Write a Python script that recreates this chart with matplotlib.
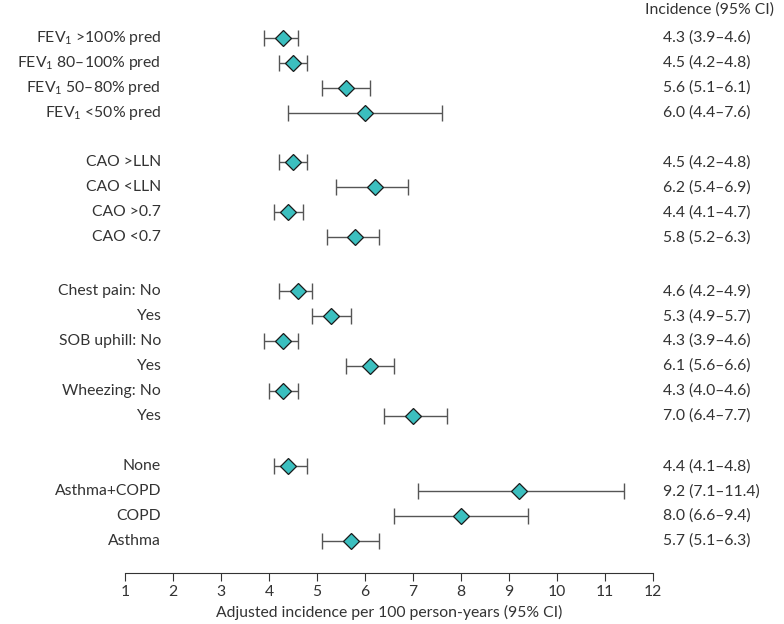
import matplotlib
matplotlib.use("Agg")
import matplotlib.pyplot as plt
import matplotlib.transforms as mtrans
import numpy as np

plt.rcParams['font.family'] = ['Lato', 'DejaVu Sans']
plt.rcParams['mathtext.fontset'] = 'custom'
plt.rcParams['mathtext.rm'] = 'Lato'
plt.rcParams['mathtext.default'] = 'regular'

# groups of rows, top to bottom
labels = [
    ['FEV$_1$ >100% pred', 'FEV$_1$ 80–100% pred', 'FEV$_1$ 50–80% pred', 'FEV$_1$ <50% pred'],
    ['CAO >LLN', 'CAO <LLN', 'CAO >0.7', 'CAO <0.7'],
    ['Chest pain: No', 'Yes', 'SOB uphill: No', 'Yes', 'Wheezing: No', 'Yes'],
    ['None', 'Asthma+COPD', 'COPD', 'Asthma'],
]
est = [
    [4.3, 4.5, 5.6, 6.0],
    [4.5, 6.2, 4.4, 5.8],
    [4.6, 5.3, 4.3, 6.1, 4.3, 7.0],
    [4.4, 9.2, 8.0, 5.7],
]
lo = [
    [3.9, 4.2, 5.1, 4.4],
    [4.2, 5.4, 4.1, 5.2],
    [4.2, 4.9, 3.9, 5.6, 4.0, 6.4],
    [4.1, 7.1, 6.6, 5.1],
]
hi = [
    [4.6, 4.8, 6.1, 7.6],
    [4.8, 6.9, 4.7, 6.3],
    [4.9, 5.7, 4.6, 6.6, 4.6, 7.7],
    [4.8, 11.4, 9.4, 6.3],
]
gaps = [0, 2.0, 2.17, 2.03]

# row positions
pos = []
y = 0
for g, grp in enumerate(labels):
    if g > 0:
        y += gaps[g]
    for i in range(len(grp)):
        pos.append(y)
        y += 1
    y -= 1
pos = np.array(pos)

lab = [s for grp in labels for s in grp]
e = np.array([v for grp in est for v in grp])
l = np.array([v for grp in lo for v in grp])
h = np.array([v for grp in hi for v in grp])

txtc = '#333333'
fs = 11.3

fig = plt.figure(figsize=(7.84, 6.24), dpi=100)
ax = fig.add_axes([125 / 784, 51 / 624, 528 / 784, 548 / 624])

ax.errorbar(e, pos, xerr=[e - l, h - e], fmt='none', ecolor='#555555',
            elinewidth=1.0, capsize=5.5, capthick=1.0, zorder=2)
ax.plot(e, pos, 'D', ms=8, mfc='#3bbfbf', mec='#1a1a1a', mew=0.9, zorder=3)

ax.set_xlim(1, 12)
ax.set_ylim(21.49, -0.52)
ax.set_xticks(np.arange(1, 13))
ax.set_yticks([])
for s in ['top', 'right', 'left']:
    ax.spines[s].set_visible(False)
ax.spines['bottom'].set_color(txtc)
ax.tick_params(axis='x', length=6, color=txtc, labelsize=fs, labelcolor=txtc, pad=3)
ax.set_xlabel('Adjusted incidence per 100 person-years (95% CI)', fontsize=fs,
              color=txtc, labelpad=4)

tr = mtrans.blended_transform_factory(fig.transFigure, ax.transData)
for p, s, ev, lv, hv in zip(pos, lab, e, l, h):
    ax.text(161 / 784, p, s, transform=tr, ha='right', va='center',
            fontsize=fs, color=txtc)
    ax.text(663 / 784, p, f'{ev:.1f} ({lv:.1f}–{hv:.1f})', transform=tr,
            ha='left', va='center', fontsize=fs, color=txtc)

fig.text(645 / 784, 1 - 10 / 624, 'Incidence (95% CI)', ha='left', va='center',
         fontsize=fs, color=txtc)

fig.savefig('out.png', dpi=100)
